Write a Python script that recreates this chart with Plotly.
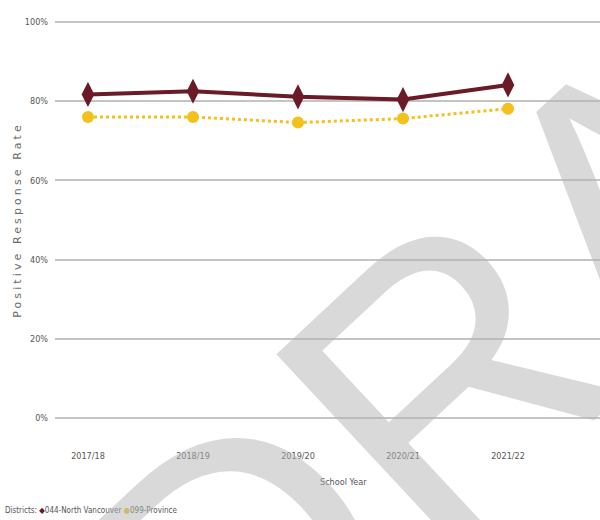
import plotly.graph_objects as go

years = ["2017/18", "2018/19", "2019/20", "2020/21", "2021/22"]
north_vancouver = [81.7, 82.5, 81.1, 80.4, 84.1]
province = [76.0, 76.0, 74.6, 75.6, 78.1]
nv_name = "044-North Vancouver"
prov_name = "099-Province"
y_ticks = [0, 20, 40, 60, 80, 100]
y_tick_labels = ["0%", "20%", "40%", "60%", "80%", "100%"]

NARROW = "DejaVu Sans Condensed, Liberation Sans Narrow, Arial Narrow, sans-serif"
MAROON = "#6a1b25"
GOLD = "#f3c01c"
TXT = "#555555"

fig = go.Figure()
fig.add_trace(go.Scatter(
    x=years, y=province, name=prov_name, mode="lines+markers",
    line=dict(color=GOLD, width=3, dash="dot"),
    marker=dict(symbol="circle", size=12, color=GOLD),
))
fig.add_trace(go.Scatter(
    x=years, y=north_vancouver, name=nv_name, mode="lines+markers",
    line=dict(color=MAROON, width=4),
    marker=dict(symbol="diamond-tall", size=18, color=MAROON),
))

fig.update_layout(
    width=600, height=520,
    margin=dict(l=55, r=0, t=18, b=98),
    plot_bgcolor="white", paper_bgcolor="white",
    font=dict(family=NARROW, size=9, color=TXT),
    showlegend=False,
    xaxis=dict(
        type="category", range=[-0.314, 4.876],
        showgrid=False, zeroline=False, showline=False, ticks="",
        ticklabelstandoff=27, automargin=False,
        tickfont=dict(size=9, color=TXT),
    ),
    yaxis=dict(
        range=[-1, 101], tickvals=y_ticks, ticktext=y_tick_labels,
        showgrid=True, gridcolor="#c4c4c4", gridwidth=2,
        zeroline=False, showline=False, ticks="", automargin=False,
        ticklabelstandoff=6,
        tickfont=dict(size=9, color=TXT),
        title=dict(text='<span style="letter-spacing:3.1px">Positive Response Rate</span>',
                   font=dict(family="DejaVu Sans, sans-serif", size=11, color="#6a6a6a"),
                   standoff=0),
    ),
)

# x-axis title (centred on the full, partly cropped plot width)
fig.add_annotation(
    text="School Year", xref="paper", yref="paper",
    x=(343 - 55) / 545, y=-(482 - 422) / 404,
    showarrow=False, xanchor="center", yanchor="middle",
    font=dict(size=9, color=TXT),
)

# compact legend line as in the reference
fig.add_annotation(
    text=(f'Districts: <span style="color:{MAROON}">◆</span>{nv_name} '
          f'<span style="color:{GOLD}">●</span>{prov_name}'),
    xref="paper", yref="paper",
    x=-(55 - 3) / 545, y=-(510 - 422) / 404,
    showarrow=False, xanchor="left", yanchor="middle",
    font=dict(size=8, color=TXT),
)

# DRAFT watermark
fig.add_annotation(
    text="DRAFT", xref="paper", yref="paper",
    x=(608 - 55) / 545, y=(422 - 224) / 404,
    xanchor="center", yanchor="middle",
    showarrow=False, textangle=-43,
    font=dict(family="Liberation Sans, Arial, sans-serif", size=385,
              color="rgba(180,180,180,0.5)"),
)

fig.write_html("out.html", config={"displayModeBar": False},
               post_script="document.body.style.margin='0';")
